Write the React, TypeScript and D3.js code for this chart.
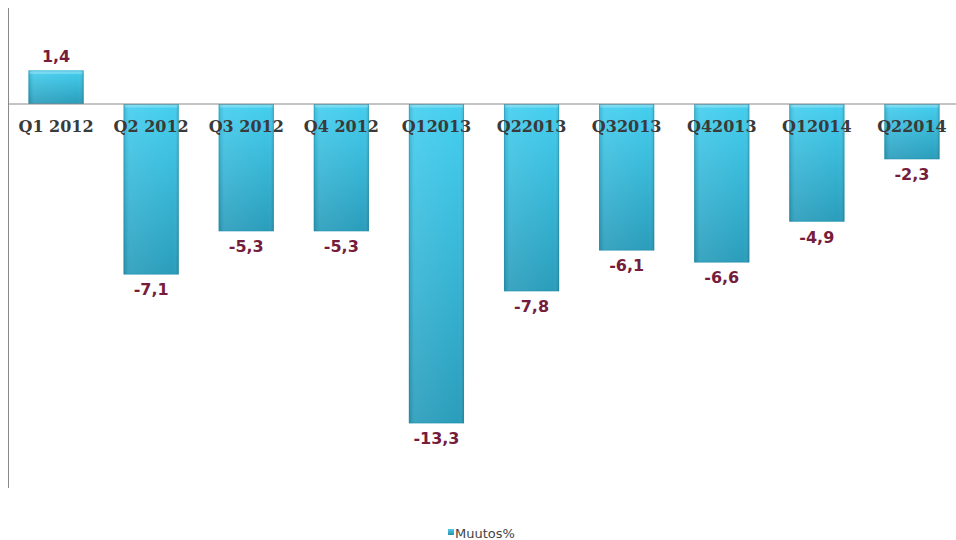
import React from "react";
import * as d3 from "d3";

const categories = ["Q1 2012", "Q2 2012", "Q3 2012", "Q4 2012", "Q12013", "Q22013", "Q32013", "Q42013", "Q12014", "Q22014"];
const values = [1.4, -7.1, -5.3, -5.3, -13.3, -7.8, -6.1, -6.6, -4.9, -2.3];
const seriesName = "Muutos%";

const W = 956;
const H = 540;

export default function App() {
  const x = d3.scaleBand<string>().domain(categories).range([8.5, 959.5]).paddingInner(0.42).paddingOuter(0.21);
  const y = d3.scaleLinear().domain([-13.3, 0]).range([423.3, 104]);
  const y0 = y(0);
  const fmt = (v: number) => v.toFixed(1).replace(".", ",");
  return (
    <svg width={W} height={H} style={{ position: "absolute", left: 0, top: 0, background: "#fff" }}>
      <defs>
        <linearGradient id="gv" x1="0" y1="0" x2="0" y2="1">
          <stop offset="0" stopColor="#45cff0" />
          <stop offset="1" stopColor="#2a9dbb" />
        </linearGradient>
        <linearGradient id="gh" x1="0" y1="0" x2="1" y2="0">
          <stop offset="0" stopColor="#000" stopOpacity="0.12" />
          <stop offset="0.1" stopColor="#fff" stopOpacity="0.08" />
          <stop offset="0.9" stopColor="#fff" stopOpacity="0.0" />
          <stop offset="1" stopColor="#000" stopOpacity="0.15" />
        </linearGradient>
        <linearGradient id="lg" x1="0" y1="0" x2="0" y2="1">
          <stop offset="0" stopColor="#4fcde8" />
          <stop offset="1" stopColor="#2a90aa" />
        </linearGradient>
      </defs>
      <line x1={8.5} x2={8.5} y1={8} y2={488} stroke="#8a8a8a" strokeWidth={1} />
      {values.map((v, i) => {
        const bx = x(categories[i])!;
        const bw = x.bandwidth();
        const top = Math.min(y(v), y0);
        const h = Math.abs(y(v) - y0);
        return (
          <g key={i}>
            <rect x={bx} y={top} width={bw} height={h} fill="url(#gv)" />
            <rect x={bx} y={top} width={bw} height={h} fill="url(#gh)" />
            <rect x={bx + 1} y={top + 0.5} width={bw - 2} height={3} fill="#fff" opacity={0.25} />
            <rect x={bx + 0.5} y={top + 0.5} width={bw - 1} height={h - 1} fill="none" stroke="#1f8aa6" strokeOpacity={0.35} />
          </g>
        );
      })}
      <line x1={8.5} x2={W} y1={y0} y2={y0} stroke="#8a8a8a" strokeWidth={1} />
      {categories.map((c, i) => (
        <text
          key={c}
          x={x(c)! + x.bandwidth() / 2}
          y={y0 + 28}
          textAnchor="middle"
          fontFamily="'DejaVu Serif', serif"
          fontWeight="bold"
          fontSize={16}
          fill="#3a3a3a"
        >
          {c}
        </text>
      ))}
      {values.map((v, i) => (
        <text
          key={i}
          x={x(categories[i])! + x.bandwidth() / 2}
          y={v >= 0 ? y(v) - 8 : y(v) + 21}
          textAnchor="middle"
          fontFamily="'DejaVu Sans', Verdana, sans-serif"
          fontWeight="bold"
          fontSize={16}
          fill="#761c3c"
        >
          {fmt(v)}
        </text>
      ))}
      <rect x={448} y={529} width={6} height={6} fill="url(#lg)" />
      <text x={455} y={538} fontFamily="'DejaVu Sans', Verdana, sans-serif" fontSize={13} fill="#444">
        {seriesName}
      </text>
    </svg>
  );
}
